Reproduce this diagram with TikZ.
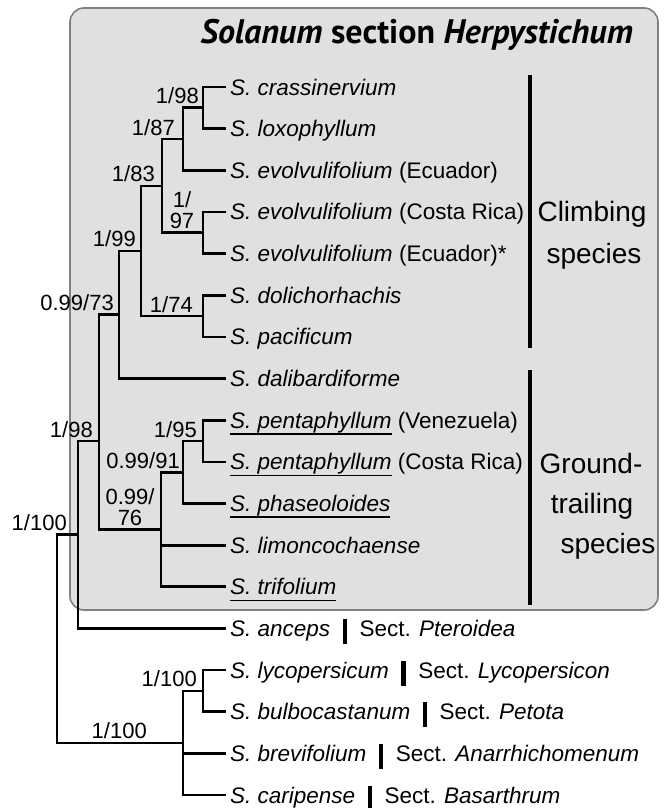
\documentclass[tikz,border=0pt]{standalone}
\usepackage{fontspec}
\setmainfont{Liberation Sans}
\newfontfamily\titlefont{PT Sans}

\newcommand*\rowheight{41.65pt}
\newsavebox\ulbox
\newcommand*\ulname[1]{\sbox\ulbox{#1}\rlap{\rule[-6.3pt]{\wd\ulbox}{1.6pt}}\usebox\ulbox}
\newcommand*\sect[1]{\hspace{0.55em}\rule[-0.33em]{4.5pt}{1.1em}\hspace{0.55em}\textup{Sect.} \textit{#1}}

\tikzset{
    taxon/.style={
        anchor=west,
        inner xsep=4pt,
        inner ysep=0pt,
        text height=16.1pt,
        text depth=0pt,
        font=\fontsize{22.5}{25}\selectfont\itshape
    },
    support/.style={
        anchor=base east,
        inner sep=0pt,
        xshift=#1,
        yshift=4pt,
        font=\fontsize{22}{21}\selectfont
    },
    support/.default=-5pt,
    support2/.style={
        anchor=south,
        align=center,
        inner sep=0pt,
        xshift=#1,
        yshift=4pt,
        font=\fontsize{22}{21}\selectfont
    },
    branch/.style={line width=2.7pt},
    groupbar/.style={line width=4.5pt},
    groupname/.style={
        inner sep=0pt,
        text height=20pt,
        text depth=0pt,
        font=\fontsize{28}{33}\selectfont
    },
    sectionbox/.style={
        draw=gray,
        line width=1.6pt,
        fill=gray!24,
        rounded corners=14pt
    }
}

\begin{document}
\begin{tikzpicture}[x=1pt,y=-\rowheight]

    \useasboundingbox (0,-1.0888) rectangle (665,18.311);

    % Grey box round the section.
    \draw[sectionbox] (70,-0.897) rectangle (658,13.557);
    \node[anchor=base east, inner sep=0pt,
        font=\titlefont\bfseries\fontsize{34}{40}\selectfont] (title)
        at (633,-0.04) {\textit{Solanum} section \textit{Herpystichum}};

    % The taxa, one per row.
    \node[taxon] (crass) at (226,1) {S. crassinervium};
    \node[taxon] (loxo) at (226,2) {S. loxophyllum};
    \node[taxon] (evolEc) at (226,3) {S. evolvulifolium \textup{(Ecuador)}};
    \node[taxon] (evolCR) at (226,4) {S. evolvulifolium \textup{(Costa Rica)}};
    \node[taxon] (evolEcb) at (226,5) {S. evolvulifolium \textup{(Ecuador)*}};
    \node[taxon] (dolich) at (226,6) {S. dolichorhachis};
    \node[taxon] (pacif) at (226,7) {S. pacificum};
    \node[taxon] (dalib) at (226,8) {S. dalibardiforme};
    \node[taxon] (pentVe) at (226,9) {\ulname{S. pentaphyllum} \textup{(Venezuela)}};
    \node[taxon] (pentCR) at (226,10) {\ulname{S. pentaphyllum} \textup{(Costa Rica)}};
    \node[taxon] (phaseol) at (226,11) {\ulname{S. phaseoloides}};
    \node[taxon] (limon) at (226,12) {S. limoncochaense};
    \node[taxon] (trifol) at (226,13) {\ulname{S. trifolium}};
    \node[taxon] (anceps) at (226,14) {S. anceps\sect{Pteroidea}};
    \node[taxon] (lycop) at (226,15) {S. lycopersicum\sect{Lycopersicon}};
    \node[taxon] (bulbo) at (226,16) {S. bulbocastanum\sect{Petota}};
    \node[taxon] (brevi) at (226,17) {S. brevifolium\sect{Anarrhichomenum}};
    \node[taxon] (carip) at (226,18) {S. caripense\sect{Basarthrum}};

    % Inner nodes of the tree.
    \coordinate (n98a) at (203,1.5);
    \coordinate (n87) at (183,2.25);
    \coordinate (n97) at (203,4.5);
    \coordinate (n83) at (162,3.375);
    \coordinate (n74) at (203,6.5);
    \coordinate (n99) at (141,4.9375);
    \coordinate (n73) at (119,6.47);
    \coordinate (n95) at (203,9.5);
    \coordinate (n91) at (183,10.25);
    \coordinate (n76) at (161,11.625);
    \coordinate (n98b) at (99,9.5);
    \coordinate (n100a) at (78,11.75);
    \coordinate (n100b) at (203,15.5);
    \coordinate (nout) at (183,16.75);
    \coordinate (root) at (57,14.25);

    % Branches, parent to child.
    \foreach \from/\to in {n98a/crass.west,n98a/loxo.west,n87/n98a,n87/evolEc.west,
        n97/evolCR.west,n97/evolEcb.west,n83/n87,n83/n97,n74/dolich.west,
        n74/pacif.west,n99/n83,n99/n74,n73/n99,n73/dalib.west,
        n95/pentVe.west,n95/pentCR.west,n91/n95,n91/phaseol.west,
        n76/n91,n76/limon.west,n76/trifol.west,n98b/n73,n98b/n76,
        n100a/n98b,n100a/anceps.west,n100b/lycop.west,n100b/bulbo.west,
        nout/n100b,nout/brevi.west,nout/carip.west,root/n100a,root/nout}
        \draw[branch] (\from) |- (\to);

    % Support values.
    \node[support=-4pt] at (n98a) {1/98};
    \node[support=-8pt] at (n87) {1/87};
    \node[support2=-21pt] at (n97) {1/\\97};
    \node[support=-7pt] at (n83) {1/83};
    \node[support=-10pt] at (n74) {1/74};
    \node[support] at (n99) {1/99};
    \node[support] at (n73) {0.99/73};
    \node[support=-6pt] at (n95) {1/95};
    \node[support=-3pt] at (n91) {0.99/91};
    \node[support2=-31pt] at (n76) {0.99/\\76};
    \node[support=-6pt] at (n98b) {1/98};
    \node[support=-11pt] at (n100a) {1/100};
    \node[support=-6pt] at (n100b) {1/100};
    \node[support=-36pt] at (nout) {1/100};

    % Habit of the two groups.
    \draw[groupbar] (530,0.712) -- (530,7.266);
    \draw[groupbar] (530,7.795) -- (530,13.437);
    \node[groupname] (climb1) at (592,4) {Climbing};
    \node[groupname] (climb2) at (594,5) {species};
    \node[groupname] (ground1) at (591,10.05) {Ground-};
    \node[groupname] (ground2) at (592,11) {trailing};
    \node[groupname] (ground3) at (608,11.95) {species};

\end{tikzpicture}
\end{document}
